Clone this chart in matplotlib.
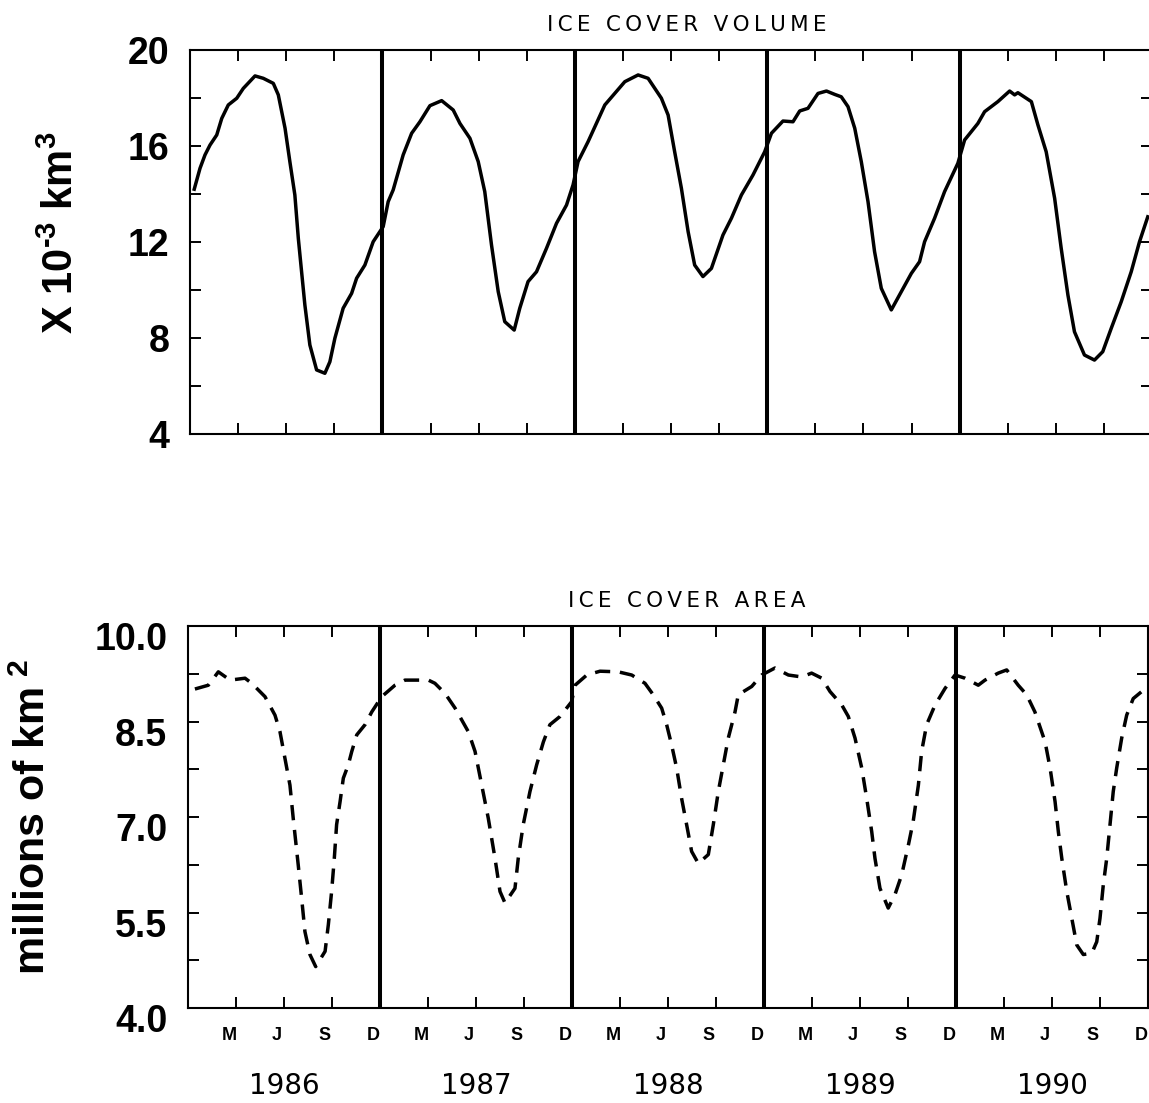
import matplotlib
matplotlib.use('Agg')
import matplotlib.pyplot as plt
from matplotlib.transforms import ScaledTranslation

plt.rcParams['font.family'] = ['Liberation Sans', 'DejaVu Sans']
plt.rcParams['mathtext.fontset'] = 'custom'
plt.rcParams['mathtext.rm'] = 'Liberation Sans:bold'
plt.rcParams['mathtext.it'] = 'Liberation Sans:bold'
plt.rcParams['mathtext.bf'] = 'Liberation Sans:bold'
plt.rcParams['lines.scale_dashes'] = False

years = [1986, 1987, 1988, 1989, 1990]
months = ['M', 'J', 'S', 'D']

# years since 1 Jan 1986
vol_t = [0.022, 0.052, 0.078, 0.104, 0.139, 0.165, 0.199, 0.243, 0.277, 0.338,
         0.381, 0.433, 0.459, 0.494, 0.519, 0.545, 0.563, 0.580, 0.597, 0.623,
         0.658, 0.701, 0.727, 0.753, 0.796, 0.840, 0.866, 0.909, 0.952, 1.004,
         1.030, 1.056, 1.108, 1.152, 1.195, 1.247, 1.308, 1.368, 1.403, 1.455,
         1.498, 1.532, 1.567, 1.602, 1.636, 1.685, 1.714, 1.757, 1.801, 1.853,
         1.905, 1.957, 1.991, 2.017, 2.069, 2.156, 2.260, 2.329, 2.381, 2.450,
         2.485, 2.519, 2.554, 2.589, 2.623, 2.666, 2.710, 2.770, 2.814, 2.866,
         2.926, 2.987, 3.022, 3.082, 3.134, 3.169, 3.212, 3.264, 3.308, 3.351,
         3.385, 3.420, 3.455, 3.489, 3.524, 3.558, 3.593, 3.645, 3.697, 3.749,
         3.792, 3.818, 3.870, 3.922, 3.991, 4.026, 4.095, 4.130, 4.199, 4.260,
         4.286, 4.303, 4.373, 4.407, 4.450, 4.494, 4.528, 4.563, 4.597, 4.649,
         4.701, 4.744, 4.788, 4.840, 4.892, 4.935, 4.978]
vol_v = [14.2, 15.07, 15.63, 16.04, 16.46, 17.15, 17.71, 17.99, 18.4, 18.92,
         18.82, 18.61, 18.13, 16.74, 15.35, 13.96, 12.15, 10.76, 9.38, 7.71,
         6.67, 6.53, 7.01, 7.99, 9.24, 9.86, 10.49, 11.04, 12.01, 12.64,
         13.68, 14.17, 15.63, 16.53, 17.01, 17.68, 17.89, 17.5, 16.94, 16.32,
         15.35, 14.1, 11.88, 9.93, 8.68, 8.33, 9.24, 10.35, 10.76, 11.74,
         12.78, 13.54, 14.38, 15.35, 16.18, 17.71, 18.68, 18.96, 18.82, 17.99,
         17.29, 15.76, 14.24, 12.43, 11.04, 10.56, 10.9, 12.29, 12.99, 13.96,
         14.79, 15.76, 16.53, 17.04, 17.01, 17.46, 17.57, 18.19, 18.29, 18.15,
         18.05, 17.64, 16.74, 15.35, 13.68, 11.6, 10.07, 9.17, 9.93, 10.69,
         11.18, 12.01, 12.99, 14.1, 15.28, 16.25, 16.94, 17.43, 17.85, 18.29,
         18.13, 18.22, 17.85, 16.88, 15.76, 13.82, 11.74, 9.79, 8.26, 7.29,
         7.08, 7.43, 8.4, 9.51, 10.76, 12.01, 13.05]

area_t = [0.036, 0.106, 0.158, 0.219, 0.297, 0.332, 0.401, 0.453, 0.479, 0.505,
          0.531, 0.548, 0.574, 0.592, 0.609, 0.635, 0.665, 0.714, 0.731, 0.748,
          0.762, 0.774, 0.792, 0.809, 0.835, 0.853, 0.879, 0.922, 0.957, 1.009,
          1.078, 1.130, 1.252, 1.286, 1.339, 1.391, 1.460, 1.495, 1.530, 1.564,
          1.599, 1.625, 1.651, 1.703, 1.720, 1.746, 1.781, 1.816, 1.851, 1.885,
          1.938, 1.998, 2.016, 2.077, 2.146, 2.241, 2.311, 2.380, 2.423, 2.467,
          2.493, 2.519, 2.545, 2.571, 2.597, 2.623, 2.658, 2.710, 2.736, 2.762,
          2.788, 2.814, 2.849, 2.866, 2.936, 2.988, 3.057, 3.127, 3.196, 3.248,
          3.301, 3.344, 3.405, 3.439, 3.474, 3.509, 3.535, 3.561, 3.578, 3.604,
          3.647, 3.682, 3.717, 3.752, 3.777, 3.804, 3.821, 3.847, 3.891, 3.943,
          3.995, 4.047, 4.116, 4.151, 4.220, 4.264, 4.324, 4.368, 4.411, 4.464,
          4.490, 4.516, 4.533, 4.551, 4.577, 4.603, 4.629, 4.663, 4.707, 4.733,
          4.750, 4.767, 4.785, 4.802, 4.819, 4.837, 4.863, 4.889, 4.923, 4.967,
          4.998]
area_v = [9.01, 9.07, 9.28, 9.15, 9.18, 9.10, 8.89, 8.60, 8.34, 7.92,
          7.50, 6.98, 6.25, 5.72, 5.20, 4.84, 4.65, 4.89, 5.31, 5.83,
          6.35, 6.88, 7.24, 7.61, 7.82, 8.03, 8.29, 8.45, 8.65, 8.89,
          9.07, 9.15, 9.15, 9.10, 8.94, 8.71, 8.34, 8.03, 7.50, 6.98,
          6.35, 5.83, 5.65, 5.88, 6.35, 6.88, 7.40, 7.82, 8.18, 8.45,
          8.58, 8.81, 9.07, 9.23, 9.29, 9.28, 9.23, 9.10, 8.92, 8.71,
          8.45, 8.13, 7.77, 7.29, 6.88, 6.46, 6.27, 6.41, 6.88, 7.40,
          7.82, 8.24, 8.65, 8.92, 9.05, 9.23, 9.34, 9.23, 9.20, 9.26,
          9.18, 8.97, 8.76, 8.58, 8.24, 7.77, 7.29, 6.77, 6.35, 5.88,
          5.57, 5.78, 6.09, 6.56, 6.93, 7.50, 8.03, 8.45, 8.76, 9.02,
          9.23, 9.18, 9.07, 9.15, 9.26, 9.31, 9.07, 8.92, 8.65, 8.18,
          7.77, 7.24, 6.77, 6.35, 5.83, 5.41, 4.99, 4.84, 4.86, 5.04,
          5.41, 5.93, 6.35, 6.88, 7.40, 7.77, 8.24, 8.60, 8.86, 8.97,
          8.94]

vol_ticks = [4, 6, 8, 10, 12, 14, 16, 18, 20]
vol_labels = ['4', '', '8', '', '12', '', '16', '', '20']
area_ticks = [4.0, 4.75, 5.5, 6.25, 7.0, 7.75, 8.5, 9.25, 10.0]
area_labels = ['4.0', '', '5.5', '', '7.0', '', '8.5', '', '10.0']


def spaced(s):
    # wide letter spacing like the old plotter lettering
    return '\u2009'.join(s)


W, H = 1149, 1103
fig = plt.figure(figsize=(W / 100, H / 100), dpi=100)
ax1 = fig.add_axes([190 / W, 1 - 434 / H, 962 / W, 384 / H])
ax2 = fig.add_axes([188 / W, 1 - 1008 / H, 960 / W, 382 / H])

start = years[0]
qticks = [y + q for y in years for q in (0.25, 0.5, 0.75, 1.0)]

for ax in (ax1, ax2):
    ax.set_xlim(start, start + len(years))
    ax.set_xticks(qticks)
    for s in ax.spines.values():
        s.set_linewidth(1.5)
    ax.tick_params(direction='in', length=8, width=1.4, top=True, right=True,
                   labelsize=27, pad=15)
    for y in years[1:]:
        ax.axvline(y, color='black', lw=2.9)

ax1.plot([start + t for t in vol_t], vol_v, color='black', lw=2.5)
ax1.set_ylim(4, 20)
ax1.set_yticks(vol_ticks)
ax1.set_yticklabels(vol_labels, fontweight='bold')
ax1.set_xticklabels([])

ax2.plot([start + t for t in area_t], area_v, color='black', lw=2.5,
         dashes=(11, 7))
ax2.set_ylim(4, 10)
ax2.set_yticks(area_ticks)
ax2.set_yticklabels(area_labels, fontweight='bold')
ax2.set_xticklabels(months * len(years), fontsize=13, fontweight='bold')
ax2.tick_params(axis='x', pad=14)

shift_left = ScaledTranslation(-7 / 100, 0, fig.dpi_scale_trans)
for lab in ax2.get_xticklabels():
    lab.set_transform(lab.get_transform() + shift_left)
shift_down = ScaledTranslation(0, -10 / 100, fig.dpi_scale_trans)
for lab in ax2.get_yticklabels():
    lab.set_transform(lab.get_transform() + shift_down)

for y in years:
    ax2.text(y + 0.5, -0.203, str(y), transform=ax2.get_xaxis_transform(),
             ha='center', va='center', fontsize=20, family='DejaVu Sans')

fig.text(687 / W, 1 - 25 / H, spaced('ICE COVER VOLUME'), ha='center',
         va='center', fontsize=15.5, family='DejaVu Sans')
fig.text(687 / W, 1 - 601 / H, spaced('ICE COVER AREA'), ha='center',
         va='center', fontsize=15.5, family='DejaVu Sans')

fig.text(62 / W, 1 - 233 / H, r'X 10$^{\text{-}3}$ km$^{3}$', rotation=90,
         ha='center', va='center', fontsize=30, fontweight='bold')
fig.text(34 / W, 1 - 817 / H, r'millions of km$^{\ 2}$', rotation=90,
         ha='center', va='center', fontsize=31, fontweight='bold')

fig.savefig('out.png', dpi=100)
